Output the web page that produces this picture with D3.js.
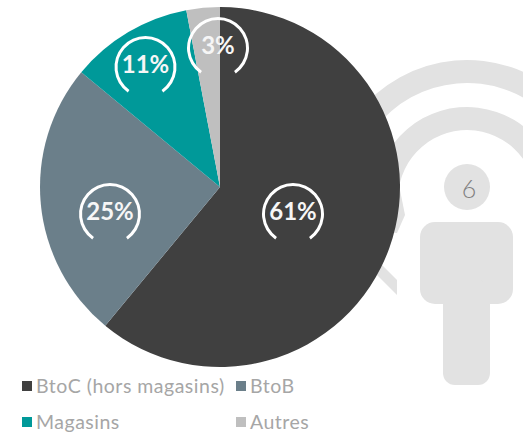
<!DOCTYPE html>
<html><head><meta charset="utf-8">
<style>html,body{margin:0;padding:0;background:#fff}svg{display:block}</style>
<script src="https://cdn.jsdelivr.net/npm/d3@7"></script></head>
<body><div id="c"></div>
<script>
const categories = ["BtoC (hors magasins)", "BtoB", "Magasins", "Autres"];
const values = [61, 25, 11, 3];
const colors = ["#404040", "#6b7f8a", "#009999", "#bfbfbf"];
const pageNumber = "6";

const W = 523, H = 432, cx = 220, cy = 187, R = 180;
const svg = d3.select("#c").append("svg").attr("width", W).attr("height", H);
const font = "Lato, 'Open Sans', sans-serif";
const deg = d => d * Math.PI / 180;

// decorative icon
const icon = svg.append("g").attr("fill", "#e2e2e2");
const ix = 467, iy = 199;
[[69, 92], [116, 139]].forEach(([r0, r1]) => {
  icon.append("path").attr("transform", `translate(${ix},${iy})`)
    .attr("d", d3.arc()({innerRadius: r0, outerRadius: r1, startAngle: deg(-100), endAngle: deg(90)}));
});
icon.append("path").attr("d", "M385,185L399,185L405,215L397,233L385,233Z");
icon.append("path").attr("d", "M370,253L397,280L397,295L365,263Z");
icon.append("circle").attr("cx", 467).attr("cy", 187).attr("r", 23);
icon.append("rect").attr("x", 420).attr("y", 222).attr("width", 93).attr("height", 82).attr("rx", 15);
icon.append("rect").attr("x", 443).attr("y", 280).attr("width", 47).attr("height", 105).attr("rx", 12);
svg.append("text").attr("x", 469).attr("y", 198).attr("text-anchor", "middle")
  .attr("font-family", font).attr("font-size", 25).attr("font-weight", 300).attr("fill", "#7f7f7f").text(pageNumber);

// pie
const pie = d3.pie().sort(null).value(d => d)(values);
const arc = d3.arc().innerRadius(0).outerRadius(R);
svg.append("g").attr("transform", `translate(${cx},${cy})`)
  .selectAll("path").data(pie).join("path")
  .attr("d", arc).attr("fill", (d, i) => colors[i]);

// value badges
const badgePos = [[293, 214], [110, 214], [145.5, 67], [218, 48]];
const gauge = d3.arc().innerRadius(28).outerRadius(31).startAngle(deg(-145)).endAngle(deg(145));
const badges = svg.selectAll("g.b").data(values).join("g").attr("class", "b")
  .attr("transform", (d, i) => `translate(${badgePos[i]})`);
badges.append("path").attr("d", gauge()).attr("fill", "#fff");
badges.append("text").attr("text-anchor", "middle").attr("y", 5.5)
  .attr("font-family", font).attr("font-size", 24).attr("font-weight", 700)
  .attr("fill", "#f6f6f6").text(d => d + "%");

// legend
const legendPos = [[22, 381], [236, 381], [22, 417], [236, 417]];
const leg = svg.selectAll("g.l").data(categories).join("g").attr("class", "l")
  .attr("transform", (d, i) => `translate(${legendPos[i]})`);
leg.append("rect").attr("width", 10).attr("height", 10).attr("fill", (d, i) => colors[i]);
leg.append("text").attr("x", 14).attr("y", 11.5)
  .attr("font-family", font).attr("font-size", 19.5).attr("letter-spacing", 0.5)
  .attr("fill", "#a6a6a6").text(d => d);
</script></body></html>
